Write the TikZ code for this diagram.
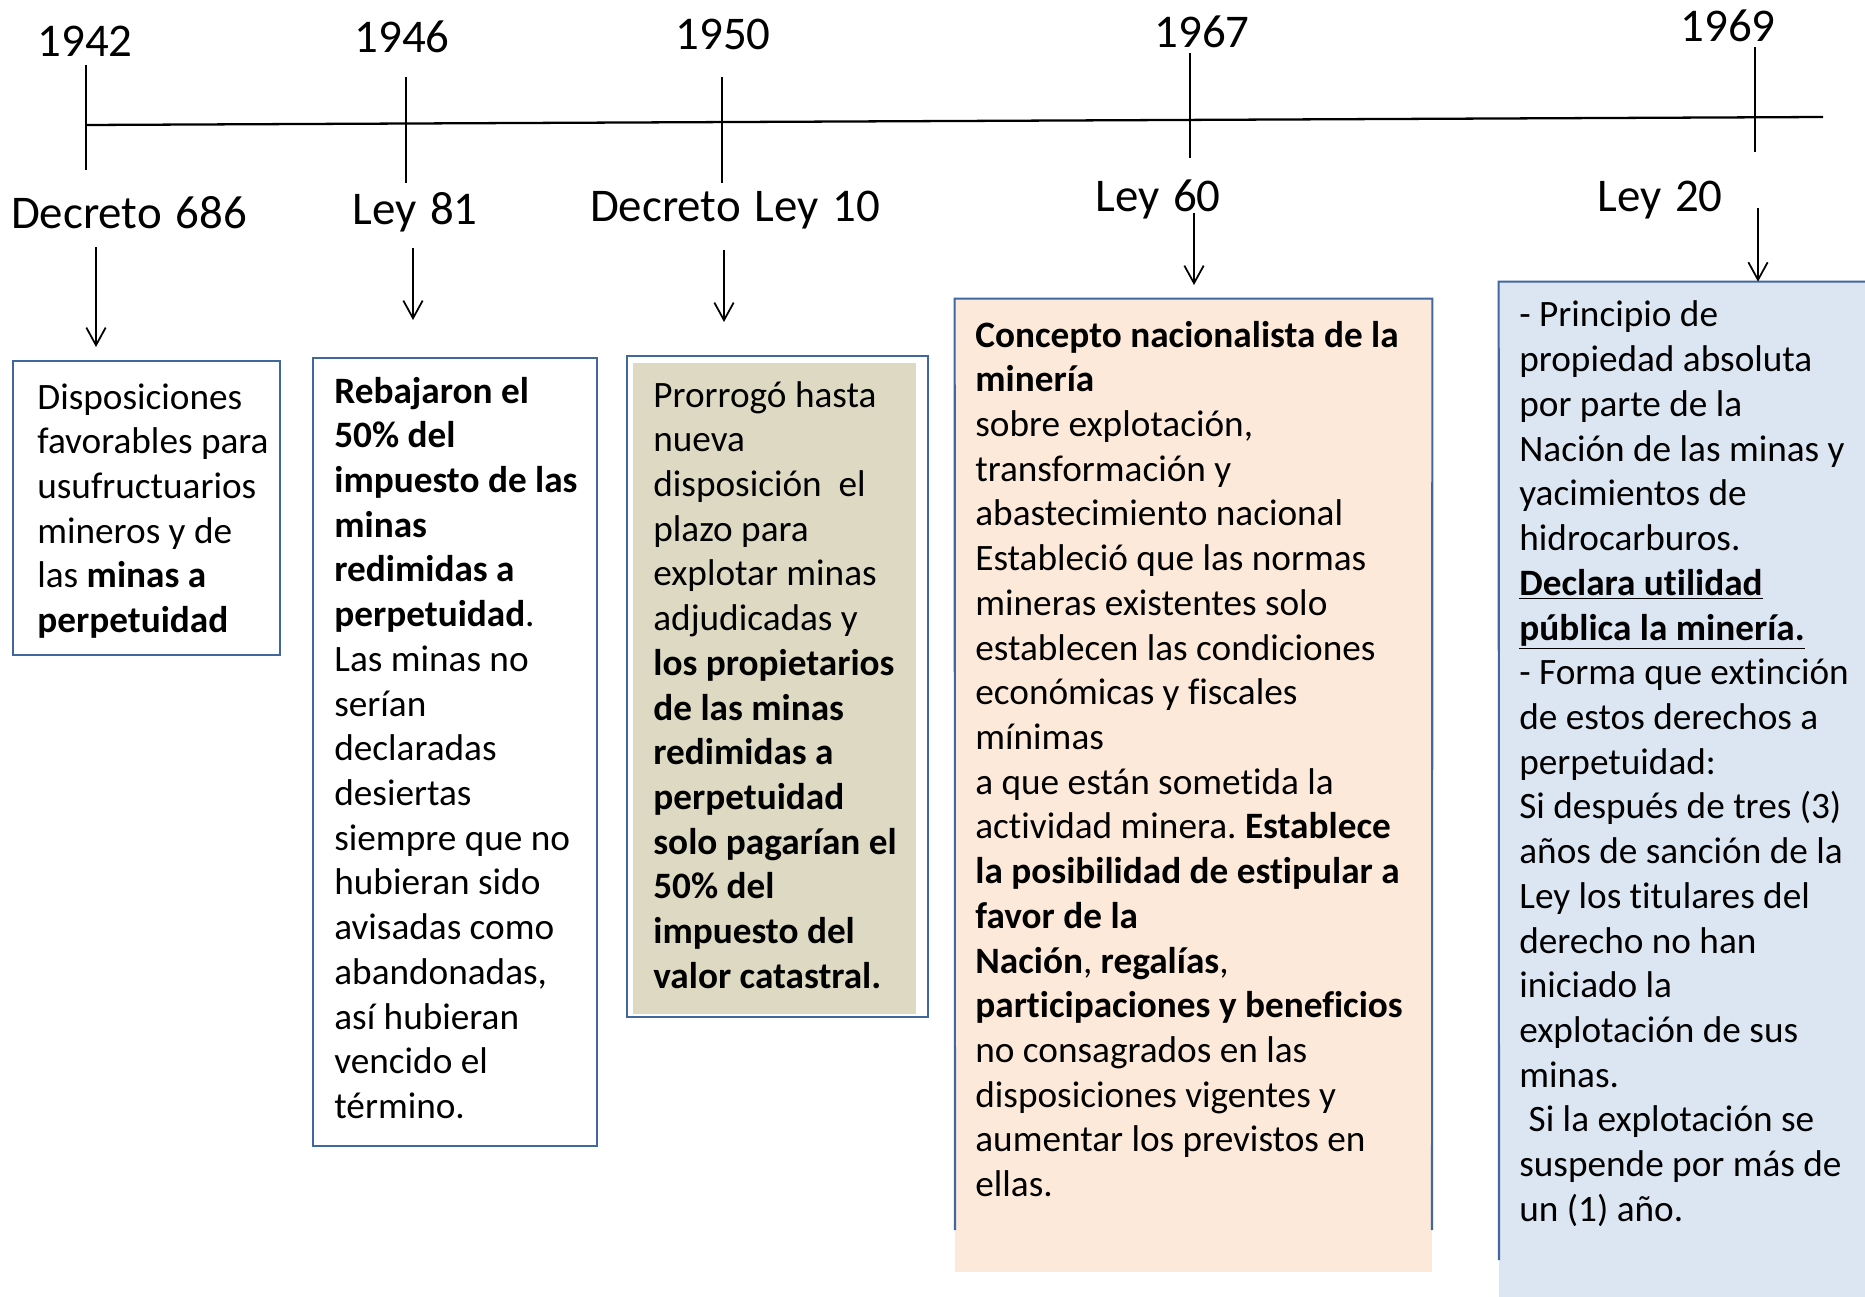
\documentclass[tikz,border=0pt]{standalone}
\usepackage{fontspec}
\setmainfont{Carlito}[Ligatures=CommonOff]
\newfontfamily\lblfont{Carlito}[WordSpace=1.3]
\usetikzlibrary{arrows.meta,fit}
\frenchspacing

\definecolor{framecol}{HTML}{41689E}
\definecolor{khaki}{HTML}{DDD9C3}
\definecolor{peach}{HTML}{FDE9D9}
\definecolor{paleblue}{HTML}{DCE6F2}

\tikzset{
  yearlbl/.style={anchor=base, inner sep=0pt, font=\lblfont\fontsize{26.7pt}{32pt}\selectfont},
  lawlbl/.style={yearlbl},
  tick/.style={line width=1pt},
  arr/.style={line width=1pt, -{Straight Barb[length=10pt,width=11pt,line width=1pt]}},
  frame/.style={draw=framecol, line width=1.2pt},
  boxtext/.style={anchor=base west, inner sep=0pt, text width=9cm, align=flush left,
    font=\fontsize{21.2pt}{25.45pt}\selectfont}
}

\begin{document}
\begin{tikzpicture}[x=0.02cm, y=-0.02cm]
\useasboundingbox (0,0) rectangle (1865,1297);

% time line
\coordinate (axisL) at (86,125);
\coordinate (axisR) at (1823,117);
\draw[line width=1.3pt] (axisL) -- (axisR);

\draw[tick] (86,65) -- ++(0,105);
\draw[tick] (406,77) -- ++(0,106);
\draw[tick] (722,77) -- ++(0,106);
\draw[tick] (1190,53) -- ++(0,105);
\draw[tick] (1755,47) -- ++(0,105);

\node[yearlbl] (y1942) at (85,57) {1942};
\node[yearlbl] (y1946) at (402,53) {1946};
\node[yearlbl] (y1950) at (723,50) {1950};
\node[yearlbl] (y1967) at (1202,48) {1967};
\node[yearlbl] (y1969) at (1728,42) {1969};

\node[lawlbl] (d686) at (129,229) {Decreto 686};
\node[lawlbl] (l81) at (415,225) {Ley 81};
\node[lawlbl] (dl10) at (735,222) {Decreto Ley 10};
\node[lawlbl] (l60) at (1158,212) {Ley 60};
\node[lawlbl] (l20) at (1660,212) {Ley 20};

% boxes
\node[frame, fit={(13,361) (280,655)}, inner sep=0pt] (box1) {};
\node[frame, fit={(313,358) (597,1146)}, inner sep=0pt] (box2) {};
\fill[khaki] (633,363) rectangle (916,1014);
\node[frame, fit={(627,356) (928,1017)}, inner sep=0pt] (box3) {};
\node[fill=peach, fit={(955,299) (1432,1272)}, inner sep=0pt] (box4) {};
\draw[frame] (955,1230) -- (box4.north west) -- (box4.north east) -- (1432,1230);
\node[fill=paleblue, fit={(1499,282) (1865,1297)}, inner sep=0pt] (box5) {};
\draw[frame] (1499,1260) -- (box5.north west) -- (box5.north east);

% arrows
\coordinate (from686) at (96,247);   \coordinate (to686) at (96,347);
\coordinate (from81) at (413,248);   \coordinate (to81) at (413,320);
\coordinate (from10) at (724,250);   \coordinate (to10) at (724,322);
\coordinate (from60) at (1194,213);  \coordinate (to60) at (1194,285);
\coordinate (from20) at (1758,208);
\draw[arr] (from686) -- (to686);
\draw[arr] (from81) -- (to81);
\draw[arr] (from10) -- (to10);
\draw[arr] (from60) -- (to60);
\draw[arr] (from20) -- (from20 |- box5.north);

\node[boxtext] (txt1) at (37,409) {Disposiciones\\
favorables para\\
usufructuarios\\
mineros y de\\
las \textbf{minas a}\\
\textbf{perpetuidad}};

\node[boxtext] (txt2) at (334,403) {\textbf{Rebajaron el}\\
\textbf{50\% del}\\
\textbf{impuesto de las}\\
\textbf{minas}\\
\textbf{redimidas a}\\
\textbf{perpetuidad}.\\
Las minas no\\
serían\\
declaradas\\
desiertas\\
siempre que no\\
hubieran sido\\
avisadas como\\
abandonadas,\\
así hubieran\\
vencido el\\
término.};

\node[boxtext] (txt3) at (653,407) {Prorrogó hasta\\
nueva\\
disposición~ el\\
plazo para\\
explotar minas\\
adjudicadas y\\
\textbf{los propietarios}\\
\textbf{de las minas}\\
\textbf{redimidas a}\\
\textbf{perpetuidad}\\
\textbf{solo pagarían el}\\
\textbf{50\% del}\\
\textbf{impuesto del}\\
\textbf{valor catastral.}};

\node[boxtext] (txt4) at (975,347) {\textbf{Concepto nacionalista de la}\\
\textbf{minería}\\
sobre explotación,\\
transformación y\\
abastecimiento nacional\\
Estableció que las normas\\
mineras existentes solo\\
establecen las condiciones\\
económicas y fiscales\\
mínimas\\
a que están sometida la\\
actividad minera. \textbf{Establece}\\
\textbf{la posibilidad de estipular a}\\
\textbf{favor de la}\\
\textbf{Nación}, \textbf{regalías},\\
\textbf{participaciones y beneficios}\\
no consagrados en las\\
disposiciones vigentes y\\
aumentar los previstos en\\
ellas.};

\node[boxtext] (txt5) at (1519,327) {- Principio de\\
propiedad absoluta\\
por parte de la\\
Nación de las minas y\\
yacimientos de\\
hidrocarburos.\\
\underline{\textbf{Declara utilidad}}\\
\underline{\textbf{pública la minería.}}\\
- Forma que extinción\\
de estos derechos a\\
perpetuidad:\\
Si después de tres (3)\\
años de sanción de la\\
Ley los titulares del\\
derecho no han\\
iniciado la\\
explotación de sus\\
minas.\\
\hspace*{0.25em}Si la explotación se\\
suspende por más de\\
un (1) año.};

\end{tikzpicture}
\end{document}
